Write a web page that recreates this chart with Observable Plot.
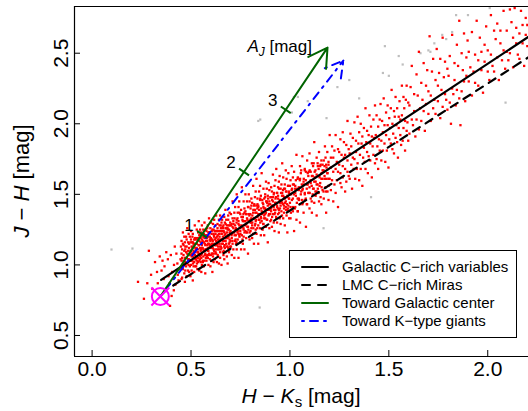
<!DOCTYPE html>
<html><head><meta charset="utf-8">
<script src="https://cdn.jsdelivr.net/npm/d3@7"></script>
<script src="https://cdn.jsdelivr.net/npm/@observablehq/plot@0.6"></script>
<style>
html,body{margin:0;padding:0;background:#fff;overflow:hidden}
#wrap{position:relative;width:528px;height:411px;font-family:"Liberation Sans",Arial,sans-serif}
#legend{position:absolute;left:289px;top:250px}
</style></head>
<body><div id="wrap"></div>
<script>
// ---- axes ----
const xTicks = [0, 0.5, 1, 1.5, 2];
const yTicks = [0.5, 1, 1.5, 2, 2.5];
const xDomain = [-0.089, 2.206];
const yDomain = [0.351, 2.831];

// ---- relations (H-Ks, J-H end points) ----
const galacticHK = [0.349, 2.21];
const galacticJH = [0.894, 2.62];
const lmcHK = [0.41, 2.21];
const lmcJH = [0.854, 2.475];

// ---- reddening vectors ----
const reddeningStart = [0.345, 0.776];
const towardGCTip = [1.19, 2.54];
const towardKTip = [1.27, 2.448];
const ajTicks = [1, 2, 3];
const ajTickHK = [0.556, 0.768, 0.979];
const ajTickJH = [1.217, 1.658, 2.099];

// ---- legend ----
const legendLabels = ["Galactic C\u2212rich variables", "LMC C\u2212rich Miras", "Toward Galactic center", "Toward K\u2212type giants"];

// ---- grey stars [H-Ks, J-H] ----
const greyStars = [[0.098,1.109],[0.204,1.116],[0.847,0.698],[0.84,2.02],[0.85,2.03],[1.02,2.19],[1.04,2.19],[1.01,2.08],[1.09,2.16],[1.24,2.26],[1.185,2.04],[1.30,2.31],[1.48,2.55],[1.55,2.48],[1.57,2.42],[1.66,2.50],[1.70,2.52],[1.71,2.51],[1.73,2.57],[1.77,2.63],[1.82,2.65],[1.84,2.77],[1.90,2.77],[1.47,2.36],[1.50,2.34],[2.09,2.15],[1.35,2.18],[1.41,1.48],[1.17,1.26],[2.01,2.82],[1.79,2.60]];

// ---- red stars: rows of [H-Ks, J-H, J-H, ...] ----
const redA = [[0.232,0.88],[0.262,0.76],[0.279,0.87],[0.287,1.10],[0.298,0.93],[0.305,0.83],[0.318,1.02],[0.328,0.95],[0.332,0.87],[0.342,1.06],[0.351,0.96],[0.356,1.03],[0.362,0.90],[0.366,0.99],[0.371,0.82],[0.375,1.09],[0.383,1.04],[0.386,0.92],[0.392,0.87],[0.394,0.71],[0.398,1.07],[0.402,0.78],[0.405,0.95],[0.413,0.82],[0.414,1.00],[0.418,1.13],[0.421,0.86],[0.426,1.08],[0.431,1.01],[0.433,0.93],[0.437,0.89],[0.441,0.97],[0.447,1.04],[0.449,1.13],[0.452,0.90]];
const redB = [[0.452,1.08,0.98,1.17,1.03],[0.455,0.91,1.11,1.05],[0.459,1.15,1.01,1.23,0.97],[0.462,1.07,1.03,1.14],[0.466,0.94,1.10,1.20,1.00],[0.469,1.05,1.16,0.88],[0.471,1.11,1.02,1.13,0.96],[0.475,1.09,1.20,0.99],[0.478,1.05,1.18,0.92,1.13],[0.481,1.01,1.08,1.26],[0.485,0.96,1.10,1.04,1.16],[0.488,1.00,1.22,1.07],[0.490,0.95,1.15,1.04,1.12],[0.494,0.99,1.20,1.07],[0.497,0.92,1.16,1.10,1.03],[0.500,1.18,1.00,1.24],[0.503,1.06,1.13,0.96,1.08],[0.507,1.20,1.03,1.12],[0.509,0.89,1.16,1.06,1.22],[0.513,0.99,1.10,1.15],[0.516,1.02,1.18,0.95,1.13],[0.519,1.09,1.28,1.05],[0.522,1.18,0.99,1.12,1.04],[0.526,1.06,1.19,0.99],[0.529,1.12,1.25,1.03,1.15],[0.532,1.09,0.97,1.18],[0.536,1.11,1.05,1.23,1.02],[0.539,1.14,1.31,1.08],[0.542,1.03,1.17,0.96,1.21],[0.546,1.12,1.06,1.25],[0.549,1.02,1.16,1.10,1.19],[0.552,0.95,1.23,1.05],[0.555,1.14,1.00,1.28,1.08],[0.559,1.17,1.03,1.12],[0.562,1.25,1.06,1.20,1.11],[0.565,0.99,1.16,1.22],[0.568,1.10,1.30,1.03,1.19],[0.572,1.08,1.14,0.94],[0.575,1.25,1.05,1.17,1.11],[0.578,1.24,1.03,1.21],[0.582,1.14,1.17,1.07,1.26],[0.585,1.12,1.28,1.05],[0.588,1.20,1.10,1.00,1.23],[0.591,1.15,1.08,1.33],[0.595,1.04,1.20,1.13,1.23],[0.598,0.99,1.17,1.26],[0.601,1.07,1.19,1.12,1.30],[0.604,1.03,1.22,1.15],[0.608,1.25,1.08,0.95,1.18],[0.611,1.29,1.15,1.06],[0.614,1.22,1.11,1.25,1.02],[0.617,1.20,1.32,1.10],[0.621,1.15,1.24,1.04,1.18],[0.624,1.22,1.09,1.28],[0.627,1.14,1.35,1.08,1.17],[0.631,1.24,1.02,1.20],[0.634,1.11,1.29,1.15,1.26],[0.637,1.06,1.18,1.13],[0.641,1.32,1.11,1.22,1.01],[0.644,1.20,1.15,1.28],[0.647,1.09,1.24,1.05,1.35],[0.651,1.18,1.13,1.26],[0.654,1.00,1.30,1.22,1.12],[0.657,1.24,1.18,1.32],[0.661,1.09,1.26,1.15,1.20],[0.664,1.28,1.07,1.17],[0.668,1.34,1.13,1.23,1.04],[0.671,1.17,1.30,1.12],[0.674,1.22,1.09,1.26,1.39],[0.678,1.15,1.32,1.19],[0.681,1.28,1.06,1.23,1.13],[0.685,1.19,1.26,1.01],[0.688,1.32,1.12,1.21,1.35],[0.692,1.15,1.25,1.09],[0.695,1.28,1.18,1.37,1.11],[0.698,1.22,1.13,1.30]];
const redC = [[0.702,1.28,1.13,1.36],[0.706,1.19,1.22,1.07],[0.710,1.33,1.17,1.45],[0.714,1.26,1.11,1.31],[0.719,1.23,1.05,1.37],[0.723,1.17,1.28,1.41],[0.727,1.21,1.15,1.26],[0.731,1.50,1.11,1.32],[0.736,1.24,1.37,1.18],[0.740,1.31,1.05,1.41],[0.744,1.21,1.28,1.45],[0.749,1.16,1.36,1.24],[0.753,1.11,1.39,1.27],[0.757,1.21,1.55,1.27],[0.762,1.34,1.15,1.31],[0.766,1.45,1.20,1.25],[0.770,1.37,1.11,1.40],[0.775,1.31,1.24,1.50],[0.779,1.29,1.19,1.36],[0.783,1.45,1.23,1.33],[0.788,1.08,1.41,1.27],[0.792,1.50,1.31,1.36],[0.796,1.18,1.45,1.23],[0.801,1.40,1.30,1.24],[0.805,1.47,1.30,1.33],[0.809,1.19,1.44,1.28],[0.814,1.56,1.37,1.22],[0.818,1.42,1.33,1.15],[0.823,1.48,1.28,1.39],[0.827,1.52,1.31,1.25],[0.831,1.37,1.61,1.22],[0.836,1.43,1.34,1.47],[0.840,1.28,1.41,1.15],[0.844,1.52,1.32,1.39],[0.849,1.56,1.26,1.46],[0.853,1.34,1.21,1.49],[0.857,1.38,1.31,1.65],[0.862,1.37,1.44,1.25],[0.866,1.41,1.54,1.29],[0.870,1.35,1.47,1.21],[0.875,1.50,1.40,1.33],[0.879,1.59,1.37,1.27],[0.883,1.45,1.54,1.32],[0.888,1.42,1.16,1.49],[0.892,1.35,1.58,1.39],[0.896,1.45,1.26,1.53],[0.901,1.31,1.48,1.39],[0.905,1.32,1.55,1.38],[0.909,1.42,1.27,1.52],[0.914,1.36,1.64,1.45],[0.918,1.30,1.50,1.41],[0.922,1.24,1.56,1.36],[0.927,1.47,1.60,1.39],[0.931,1.33,1.44,1.68],[0.935,1.30,1.51,1.42],[0.940,1.55,1.36,1.49],[0.944,1.23,1.59,1.39],[0.948,1.46,1.63,1.33],[0.953,1.54,1.42,1.29],[0.957,1.57,1.45,1.38],[0.961,1.72,1.44,1.51],[0.966,1.33,1.49,1.62],[0.970,1.37,1.42,1.54],[0.974,1.28,1.57,1.47],[0.979,1.41,1.67,1.45],[0.983,1.35,1.52,1.61],[0.987,1.39,1.49,1.23],[0.992,1.56,1.42,1.65],[0.996,1.47,1.52,1.33]];
const redCoreLow = [[0.500,1.10,1.03],[0.505,1.16,1.08],[0.510,1.01,1.13],[0.515,1.09,1.15],[0.520,1.07,1.19],[0.525,1.04,1.11],[0.530,1.01,1.15],[0.535,1.09,1.19],[0.540,1.07,1.14],[0.545,1.04,1.21],[0.550,1.11,1.07],[0.555,1.18,1.12],[0.560,1.02,1.16],[0.565,1.20,1.10],[0.570,1.15,1.07],[0.575,1.21,1.11],[0.580,1.06,1.19],[0.585,1.15,1.10],[0.590,1.23,1.07],[0.595,1.18,1.14],[0.600,1.18,1.14],[0.605,1.24,1.08],[0.610,1.17,1.12],[0.615,1.08,1.21],[0.620,1.24,1.14],[0.625,1.19,1.11],[0.630,1.24,1.14],[0.635,1.07,1.21],[0.640,1.24,1.18],[0.645,1.17,1.13],[0.650,1.11,1.28],[0.655,1.15,1.22],[0.660,1.17,1.27],[0.665,1.10,1.24],[0.670,1.14,1.21],[0.675,1.17,1.29],[0.680,1.20,1.26],[0.685,1.13,1.25],[0.690,1.28,1.20],[0.695,1.23,1.16],[0.700,1.24,1.17],[0.705,1.29,1.21],[0.710,1.15,1.27],[0.715,1.23,1.29],[0.720,1.21,1.33],[0.725,1.18,1.25],[0.730,1.16,1.30],[0.735,1.23,1.33],[0.740,1.22,1.29],[0.745,1.20,1.37],[0.750,1.26,1.22],[0.755,1.34,1.28],[0.760,1.18,1.32],[0.765,1.36,1.26],[0.770,1.31,1.23],[0.775,1.38,1.28],[0.780,1.23,1.36],[0.785,1.32,1.27],[0.790,1.41,1.25],[0.795,1.35,1.31],[0.800,1.36,1.32],[0.805,1.42,1.26],[0.810,1.35,1.30],[0.815,1.26,1.39],[0.820,1.43,1.33],[0.825,1.37,1.29],[0.830,1.42,1.32],[0.835,1.26,1.40],[0.840,1.42,1.36],[0.845,1.36,1.32],[0.850,1.30,1.47],[0.855,1.33,1.40],[0.860,1.36,1.46],[0.865,1.29,1.43],[0.870,1.33,1.40],[0.875,1.36,1.48],[0.880,1.39,1.45],[0.885,1.32,1.44],[0.890,1.47,1.39],[0.895,1.43,1.36],[0.900,1.43,1.36],[0.905,1.48,1.40],[0.910,1.34,1.46],[0.915,1.42,1.48],[0.920,1.39,1.51],[0.925,1.37,1.44],[0.930,1.34,1.48],[0.935,1.41,1.51],[0.940,1.40,1.47],[0.945,1.37,1.54],[0.950,1.44,1.40],[0.955,1.51,1.45],[0.960,1.35,1.49],[0.965,1.53,1.43],[0.970,1.48,1.40],[0.975,1.54,1.44],[0.980,1.39,1.52],[0.985,1.48,1.43],[0.990,1.56,1.40],[0.995,1.51,1.47]];
const redCoreHigh = [[1.000,1.44,1.56],[1.005,1.50,1.37],[1.010,1.54,1.46],[1.015,1.62,1.41],[1.020,1.50,1.57],[1.025,1.40,1.54],[1.030,1.49,1.60],[1.035,1.44,1.54],[1.040,1.38,1.62],[1.045,1.47,1.53],[1.050,1.60,1.43],[1.055,1.50,1.65],[1.060,1.57,1.46],[1.065,1.54,1.44],[1.070,1.61,1.57],[1.075,1.50,1.68],[1.080,1.47,1.60],[1.085,1.54,1.43],[1.090,1.65,1.57],[1.095,1.51,1.66],[1.100,1.51,1.67],[1.105,1.66,1.58],[1.110,1.56,1.45],[1.115,1.50,1.63],[1.120,1.54,1.72],[1.125,1.66,1.62],[1.130,1.59,1.49],[1.135,1.64,1.52],[1.140,1.57,1.72],[1.145,1.68,1.51],[1.150,1.56,1.62],[1.155,1.48,1.71],[1.160,1.55,1.65],[1.165,1.61,1.71],[1.170,1.52,1.67],[1.175,1.63,1.70],[1.180,1.76,1.55],[1.185,1.69,1.61],[1.190,1.65,1.52],[1.195,1.61,1.73]];
const redD = [[1.003,1.41,1.60,1.33],[1.009,1.53,1.70],[1.015,1.47,1.38,1.57],[1.021,1.24,1.66],[1.027,1.51,1.41,1.56],[1.033,1.32,1.78],[1.039,1.47,1.61,1.38],[1.045,1.55,1.46],[1.051,1.70,1.30,1.61],[1.057,1.52,1.67],[1.063,1.43,1.53,1.77],[1.069,1.37,1.59],[1.075,1.46,1.67,1.51],[1.081,1.27,1.66],[1.087,1.57,1.43,1.74],[1.093,1.51,1.63],[1.099,1.40,1.55,1.79],[1.105,1.47,1.60],[1.111,1.72,1.37,1.63],[1.117,1.54,1.70],[1.123,1.44,1.59,1.87],[1.129,1.52,1.67],[1.135,1.57,1.76,1.35],[1.141,1.70,1.54],[1.147,1.63,1.80,1.45],[1.153,1.58,1.70],[1.159,1.43,1.74,1.61],[1.165,1.53,1.67],[1.171,1.74,1.47,1.66],[1.177,1.84,1.61],[1.183,1.52,1.71,1.37],[1.189,1.80,1.65],[1.195,1.56,1.71,1.46],[1.201,1.92,1.61],[1.207,1.76,1.53,1.69],[1.213,1.60,1.84],[1.219,1.45,1.76,1.66],[1.225,1.81,1.57],[1.231,1.68,1.92,1.51],[1.237,1.73,1.60],[1.243,1.82,1.66,1.41],[1.249,1.80,1.71],[1.255,1.58,1.89,1.65],[1.261,1.78,1.55],[1.267,1.70,1.94,1.62],[1.273,1.76,1.87],[1.279,1.52,1.78,1.68],[1.285,1.85,1.59],[1.291,1.74,2.02,1.66],[1.297,1.63,1.82]];
const redE = [[1.302,1.79,1.61],[1.306,1.93],[1.310,1.71,1.84],[1.314,1.54],[1.318,1.76,1.90],[1.322,1.68],[1.326,2.01,1.75],[1.330,1.61],[1.334,1.88,1.80],[1.338,1.68],[1.342,2.05,1.72],[1.346,1.86],[1.350,1.60,1.94],[1.354,1.78],[1.358,1.68,2.00],[1.362,1.86],[1.366,1.56,1.91],[1.370,1.76],[1.374,1.83,1.97],[1.378,1.73],[1.382,2.11,1.68],[1.386,1.87],[1.390,1.80,1.95],[1.394,1.65],[1.398,1.92,1.77],[1.402,2.06],[1.406,1.86,1.74],[1.410,1.98],[1.414,1.62,1.91],[1.418,1.84],[1.422,2.03,1.78],[1.426,1.90],[1.430,1.72,2.13],[1.434,1.92],[1.438,1.75,2.06],[1.442,1.84],[1.446,1.98,1.68],[1.450,1.89],[1.454,2.03,1.81],[1.458,2.14],[1.462,1.88,1.74],[1.466,2.02],[1.470,1.94,1.81],[1.474,2.18],[1.478,1.86,1.99],[1.482,1.73],[1.486,2.08,1.92],[1.490,1.81],[1.494,2.13,1.99],[1.498,1.69],[1.502,2.04,1.89],[1.506,1.97],[1.510,2.11,1.86],[1.514,2.24],[1.518,1.82,2.00],[1.522,1.93],[1.526,2.09,1.79],[1.530,2.05],[1.534,1.90,2.19],[1.538,1.99],[1.542,1.87,2.11],[1.546,1.76],[1.550,2.05,1.97],[1.554,2.16],[1.558,1.92,2.03],[1.562,1.85],[1.566,2.27,2.06],[1.570,1.88],[1.574,2.19,1.97],[1.578,2.11],[1.582,1.81,2.02],[1.586,2.17],[1.590,1.95,2.27],[1.594,2.01],[1.598,1.88,2.15]];
const redF = [[1.604,2.13,1.93],[1.610,2.26],[1.616,2.03,2.41],[1.622,1.99],[1.628,2.21,2.09],[1.634,1.91],[1.640,2.35,2.03],[1.646,2.20],[1.652,1.96,2.51],[1.658,2.11],[1.664,2.29,2.02],[1.670,2.17],[1.676,2.43,2.09],[1.682,1.95],[1.688,2.27,2.14],[1.694,2.38],[1.700,2.07,2.23],[1.706,2.62],[1.712,2.02,2.20],[1.718,2.37],[1.724,2.11,2.46],[1.730,2.17],[1.736,2.31,2.07],[1.742,2.53],[1.748,2.27,2.16],[1.754,2.36],[1.760,2.04,2.46],[1.766,2.24],[1.772,2.12,2.61],[1.778,2.33],[1.784,2.21,2.44],[1.790,2.17],[1.796,2.39,2.10],[1.802,2.34],[1.808,2.15,2.48],[1.814,2.00],[1.820,2.25,2.63],[1.826,2.21],[1.832,2.43,2.31],[1.838,2.13],[1.844,2.56,2.24],[1.850,2.41],[1.856,2.18,2.73],[1.862,1.99],[1.868,2.50,2.23],[1.874,2.38],[1.880,2.64,2.30],[1.886,2.16],[1.892,2.47,2.34],[1.898,2.59]];
const redG = [[1.904,2.30,2.51],[1.912,2.40],[1.920,2.20,2.65],[1.928,2.37],[1.936,2.49,2.29],[1.944,2.73],[1.952,2.45,2.27],[1.960,2.61],[1.968,2.38,2.51],[1.976,2.22],[1.984,2.56,2.44],[1.992,2.69],[2.000,2.37,2.52],[2.008,2.31],[2.016,2.77,2.49],[2.024,2.41],[2.032,2.66,2.37],[2.040,2.60],[2.048,2.47,2.71],[2.056,2.31],[2.064,2.57,2.66],[2.072,2.45],[2.080,2.80,2.52],[2.088,2.39],[2.096,2.66,2.51],[2.104,2.45],[2.112,2.81,2.50],[2.120,2.72],[2.128,2.61,2.40],[2.136,2.82],[2.144,2.57,2.68],[2.152,2.49],[2.160,2.64,2.46],[2.168,2.80],[2.176,2.57,2.70],[2.184,2.41],[2.192,2.75,2.63],[2.200,2.55,2.70]];

// ---- build tables ----
const red = [redA, redB, redC, redCoreLow, redCoreHigh, redD, redE, redF, redG].flat().flatMap(([hk, ...jh]) => jh.map(v => ({hk, jh: v})));
const grey = greyStars.map(([hk, jh]) => ({hk, jh}));
const galactic = galacticHK.map((hk, i) => ({hk, jh: galacticJH[i]}));
const lmc = lmcHK.map((hk, i) => ({hk, jh: lmcJH[i]}));

const W = 528, H = 411, mL = 74, mR = 0, mT = 6, mB = 55;
const kx = (W - mL - mR) / (xDomain[1] - xDomain[0]);
const ky = (H - mT - mB) / (yDomain[1] - yDomain[0]);
const dxp = (towardGCTip[0] - reddeningStart[0]) * kx, dyp = (towardGCTip[1] - reddeningStart[1]) * ky;
const len = Math.hypot(dxp, dyp);
const px = dyp / len, py = -dxp / len, half = 6;
const tickSegs = ajTicks.map((a, i) => ({
  x1: ajTickHK[i] - px * half / kx, y1: ajTickJH[i] - py * half / ky,
  x2: ajTickHK[i] + px * half / kx, y2: ajTickJH[i] + py * half / ky,
  hk: ajTickHK[i], jh: ajTickJH[i], label: String(a)
}));

const green = "#006400", blue = "#0000FF", magenta = "#FF00FF";

const plot = Plot.plot({
  width: W, height: H, marginLeft: mL, marginRight: mR, marginTop: mT, marginBottom: mB,
  x: {domain: xDomain},
  y: {domain: yDomain},
  style: {fontFamily: "Liberation Sans, Arial, sans-serif", fontSize: "21px", color: "#000", background: "transparent", overflow: "visible"},
  marks: [
    Plot.dot(grey, {x: "hk", y: "jh", symbol: "square", r: 1.25, fill: "#BEBEBE", clip: true}),
    Plot.dot(red, {x: "hk", y: "jh", symbol: "square", r: 1.3, fill: "#FF0000", clip: true}),
    Plot.line(galactic, {x: "hk", y: "jh", stroke: "#000", strokeWidth: 2.2, clip: true}),
    Plot.line(lmc, {x: "hk", y: "jh", stroke: "#000", strokeWidth: 2.2, strokeDasharray: "8,7", clip: true}),
    Plot.arrow([{x1: reddeningStart[0], y1: reddeningStart[1], x2: towardKTip[0], y2: towardKTip[1]}],
      {x1: "x1", y1: "y1", x2: "x2", y2: "y2", stroke: blue, strokeWidth: 2, strokeDasharray: "2,6,8,6", strokeLinecap: "round", headLength: 15, headAngle: 60}),
    Plot.arrow([{x1: reddeningStart[0], y1: reddeningStart[1], x2: towardGCTip[0], y2: towardGCTip[1]}],
      {x1: "x1", y1: "y1", x2: "x2", y2: "y2", stroke: green, strokeWidth: 2, headLength: 16, headAngle: 60}),
    Plot.link(tickSegs, {x1: "x1", y1: "y1", x2: "x2", y2: "y2", stroke: green, strokeWidth: 2}),
    Plot.text(tickSegs, {x: "hk", y: "jh", text: "label", dx: -13, dy: -9, fontSize: 17, fill: "#000"}),
    Plot.dot([reddeningStart], {x: d => d[0], y: d => d[1], symbol: "circle", r: 8.5, stroke: magenta, strokeWidth: 2, fill: "none"}),
    Plot.dot([reddeningStart], {x: d => d[0], y: d => d[1], symbol: "times", r: 8.2, stroke: magenta, strokeWidth: 2}),
    Plot.ruleY([yDomain[0], yDomain[1]], {stroke: "#000", strokeWidth: 1.2}),
    Plot.ruleX([xDomain[0]], {stroke: "#000", strokeWidth: 1.2}),
    Plot.axisX({ticks: xTicks, tickFormat: d3.format(".1f"), tickSize: -6, tickPadding: 11, label: null, fontSize: 21}),
    Plot.axisY({ticks: yTicks, tickFormat: d3.format(".1f"), tickSize: -6, tickPadding: 13, tickRotate: -90, label: null, fontSize: 21})
  ]
});

document.getElementById("wrap").appendChild(plot);
const svg = d3.select(plot);
const sx = plot.scale("x"), sy = plot.scale("y");

// x title
const xt = svg.append("text").attr("x", (mL + W - mR) / 2).attr("y", 403).attr("text-anchor", "middle").attr("font-size", 21).attr("fill", "#000");
xt.append("tspan").attr("font-style", "italic").text("H");
xt.append("tspan").text(" \u2212 ");
xt.append("tspan").attr("font-style", "italic").text("K");
xt.append("tspan").attr("font-size", 15).attr("dy", 4).text("s");
xt.append("tspan").attr("dy", -4).text(" [mag]");

// y title
const yt = svg.append("text").attr("transform", `translate(29,${(mT + H - mB) / 2}) rotate(-90)`).attr("text-anchor", "middle").attr("font-size", 22).attr("fill", "#000");
yt.append("tspan").attr("font-style", "italic").text("J");
yt.append("tspan").text(" \u2212 ");
yt.append("tspan").attr("font-style", "italic").text("H");
yt.append("tspan").text(" [mag]");

// A_J label near arrow tip
const tx = sx.apply(towardGCTip[0]), ty = sy.apply(towardGCTip[1]);
const at = svg.append("text").attr("x", tx - 15).attr("y", ty + 5).attr("text-anchor", "end").attr("font-size", 17).attr("fill", "#000");
at.append("tspan").attr("font-style", "italic").text("A");
at.append("tspan").attr("font-style", "italic").attr("font-size", 12).attr("dy", 4).text("J");
at.append("tspan").attr("dy", -4).text(" [mag]");

// legend
const lg = d3.select("#wrap").append("svg").attr("id", "legend").attr("width", 228).attr("height", 88)
  .style("font-family", "Liberation Sans, Arial, sans-serif");
lg.append("rect").attr("x", 0.5).attr("y", 0.5).attr("width", 227).attr("height", 87).attr("fill", "#fff").attr("stroke", "#000");
const styles = [
  {stroke: "#000", dash: null},
  {stroke: "#000", dash: "8,8"},
  {stroke: green, dash: null},
  {stroke: blue, dash: "2,6,8,6"}
];
legendLabels.forEach((t, i) => {
  const yy = 17 + i * 18;
  const ln = lg.append("line").attr("x1", 13).attr("x2", 39).attr("y1", yy).attr("y2", yy)
    .attr("stroke", styles[i].stroke).attr("stroke-width", 2).attr("stroke-linecap", "round");
  if (styles[i].dash) ln.attr("stroke-dasharray", styles[i].dash);
  lg.append("text").attr("x", 53).attr("y", yy).attr("dy", "0.35em").attr("font-size", 15).attr("fill", "#000").text(t);
});
</script>
</body></html>
